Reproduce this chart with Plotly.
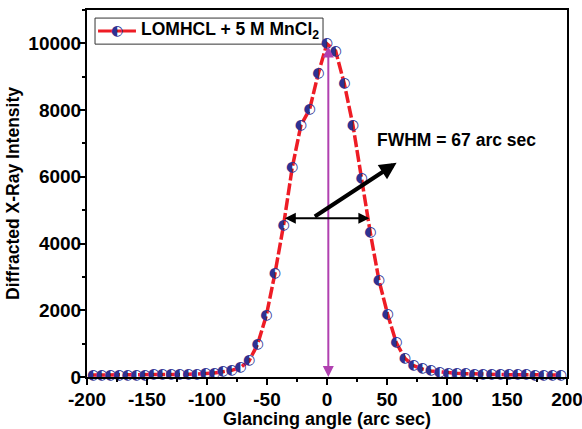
import plotly.graph_objects as go

# ---- data ----
angle = [-195.0, -187.8, -180.6, -173.3, -166.1, -158.9, -151.7, -144.5, -137.2, -130.0,
         -122.8, -115.6, -108.4, -101.1, -93.9, -86.7, -79.5, -72.3, -65.0, -57.8,
         -50.6, -43.4, -36.2, -29.0, -21.7, -14.5, -7.3, -0.1, 7.2, 14.4,
         21.6, 28.8, 36.1, 43.3, 50.5, 57.7, 64.9, 72.2, 79.4, 86.6,
         93.8, 101.1, 108.3, 115.5, 122.7, 129.9, 137.2, 144.4, 151.6, 158.8,
         166.0, 173.3, 180.5, 187.7, 194.9]
intensity = [60, 60, 60, 60, 60, 60, 60, 70, 70, 70,
             80, 80, 90, 100, 120, 160, 200, 280, 480, 980,
             1840, 3100, 4550, 6270, 7550, 8020, 9090, 9990, 9770, 8790,
             7550, 5950, 4320, 2900, 1880, 1030, 560, 340, 240, 180,
             150, 120, 110, 100, 90, 90, 80, 80, 70, 70,
             70, 60, 60, 60, 60]

x_ticks = [-200, -150, -100, -50, 0, 50, 100, 150, 200]
x_tick_text = ["-200", "-150", "-100", "-50", "0", "50", "100", "150", "200"]
y_ticks = [0, 2000, 4000, 6000, 8000, 10000]
y_tick_text = ["0", "2000", "4000", "6000", "8000", "10000"]

series_name = "LOMHCL + 5 M MnCl<sub>2</sub>"
fwhm_label = "FWHM = 67 arc sec"

# annotation anchor values (data units)
peak_line_x = 1.1
peak_line_top = 9950
half_max_y = 4760
half_left, half_right = -36.4, 35.3
big_arrow_tail = (-11.4, 4780)
big_arrow_head = (58, 6420)
label_pos = (108, 7100)
legend_marker_pos = (-175, 10370)

RED = "#EE1C25"
NAVY = "#2E3192"
MAGENTA = "#B041B0"
FONT = "Liberation Sans, Arial, sans-serif"
MARK = "\u25D0"

fig = go.Figure()

fig.add_trace(go.Scatter(
    x=angle, y=intensity, mode="lines",
    line=dict(color=RED, width=3.5, dash="12px,3px"),
    hoverinfo="skip", showlegend=False))

fig.add_trace(go.Scatter(
    x=angle, y=intensity, mode="text", text=[MARK] * len(angle),
    textposition="middle center",
    textfont=dict(family="DejaVu Sans", size=14, color=NAVY),
    cliponaxis=False, hoverinfo="skip", showlegend=False))

# legend marker (drawn as a text glyph like the data markers)
fig.add_trace(go.Scatter(
    x=[legend_marker_pos[0]], y=[legend_marker_pos[1]], mode="text", text=[MARK],
    textposition="middle center",
    textfont=dict(family="DejaVu Sans", size=14, color=NAVY),
    cliponaxis=False, hoverinfo="skip", showlegend=False))

# vertical magenta double arrow
fig.add_annotation(x=peak_line_x, y=0, ax=peak_line_x, ay=peak_line_top,
                   xref="x", yref="y", axref="x", ayref="y", text="",
                   showarrow=True, arrowside="end+start", arrowhead=2, startarrowhead=2,
                   arrowsize=1.1, startarrowsize=1.1, arrowwidth=2, arrowcolor=MAGENTA)
# horizontal FWHM double arrow
fig.add_annotation(x=half_right, y=half_max_y, ax=half_left, ay=half_max_y,
                   xref="x", yref="y", axref="x", ayref="y", text="",
                   showarrow=True, arrowside="end+start", arrowhead=2, startarrowhead=2,
                   arrowsize=1.1, startarrowsize=1.1, arrowwidth=2, arrowcolor="black")
# thick pointer arrow
fig.add_annotation(x=big_arrow_head[0], y=big_arrow_head[1],
                   ax=big_arrow_tail[0], ay=big_arrow_tail[1],
                   xref="x", yref="y", axref="x", ayref="y", text="",
                   showarrow=True, arrowhead=2, arrowsize=0.85, arrowwidth=4,
                   arrowcolor="black")
fig.add_annotation(x=label_pos[0], y=label_pos[1], xref="x", yref="y",
                   text=fwhm_label, showarrow=False,
                   font=dict(family=FONT, size=17.5, color="black", weight="bold"))

# custom legend (box, line, label)
fig.add_shape(type="rect", xref="paper", yref="paper", x0=0.0167, x1=0.4917,
              y0=0.907, y1=0.978, line=dict(color="#333333", width=1),
              fillcolor="white", layer="below")
fig.add_shape(type="line", xref="paper", yref="paper", x0=0.023, x1=0.102,
              y0=0.943, y1=0.943, line=dict(color=RED, width=3), layer="below")
fig.add_annotation(x=0.108, y=0.943, xref="paper", yref="paper", text=series_name,
                   xanchor="left", yanchor="middle", showarrow=False,
                   font=dict(family=FONT, size=17.5, color="black", weight="bold"))

tick_font = dict(family=FONT, size=19, color="black", weight="bold")

fig.update_xaxes(range=[-200, 200], tickmode="array", tickvals=x_ticks, ticktext=x_tick_text,
                 showline=True, linecolor="black", linewidth=2, mirror=True,
                 ticks="outside", ticklen=6, tickwidth=2, tickcolor="black",
                 showgrid=False, zeroline=False, tickfont=tick_font,
                 ticklabeloverflow="allow", ticklabelstandoff=-2,
                 minor=dict(dtick=25, tick0=0, ticks="outside", ticklen=3,
                            tickwidth=2, tickcolor="black", showgrid=False),
                 title=dict(text="Glancing angle (arc sec)", standoff=3,
                            font=dict(family=FONT, size=18, color="black", weight="bold")))
fig.update_yaxes(range=[0, 11000], tickmode="array", tickvals=y_ticks, ticktext=y_tick_text,
                 showline=True, linecolor="black", linewidth=2, mirror=True,
                 ticks="outside", ticklen=6, tickwidth=2, tickcolor="black",
                 showgrid=False, zeroline=False, tickfont=tick_font,
                 ticklabeloverflow="allow", ticklabelstandoff=-6,
                 minor=dict(dtick=1000, tick0=0, ticks="outside", ticklen=3,
                            tickwidth=2, tickcolor="black", showgrid=False),
                 title=dict(text="Diffracted X-Ray Intensity", standoff=4,
                            font=dict(family=FONT, size=17.5, color="black", weight="bold")))

fig.update_layout(width=582, height=429,
                  margin=dict(l=87, r=15, t=10, b=52, autoexpand=False),
                  paper_bgcolor="white", plot_bgcolor="white",
                  font=dict(family=FONT, size=18, color="black", weight="bold"),
                  showlegend=False)

fig.write_html("out.html")
